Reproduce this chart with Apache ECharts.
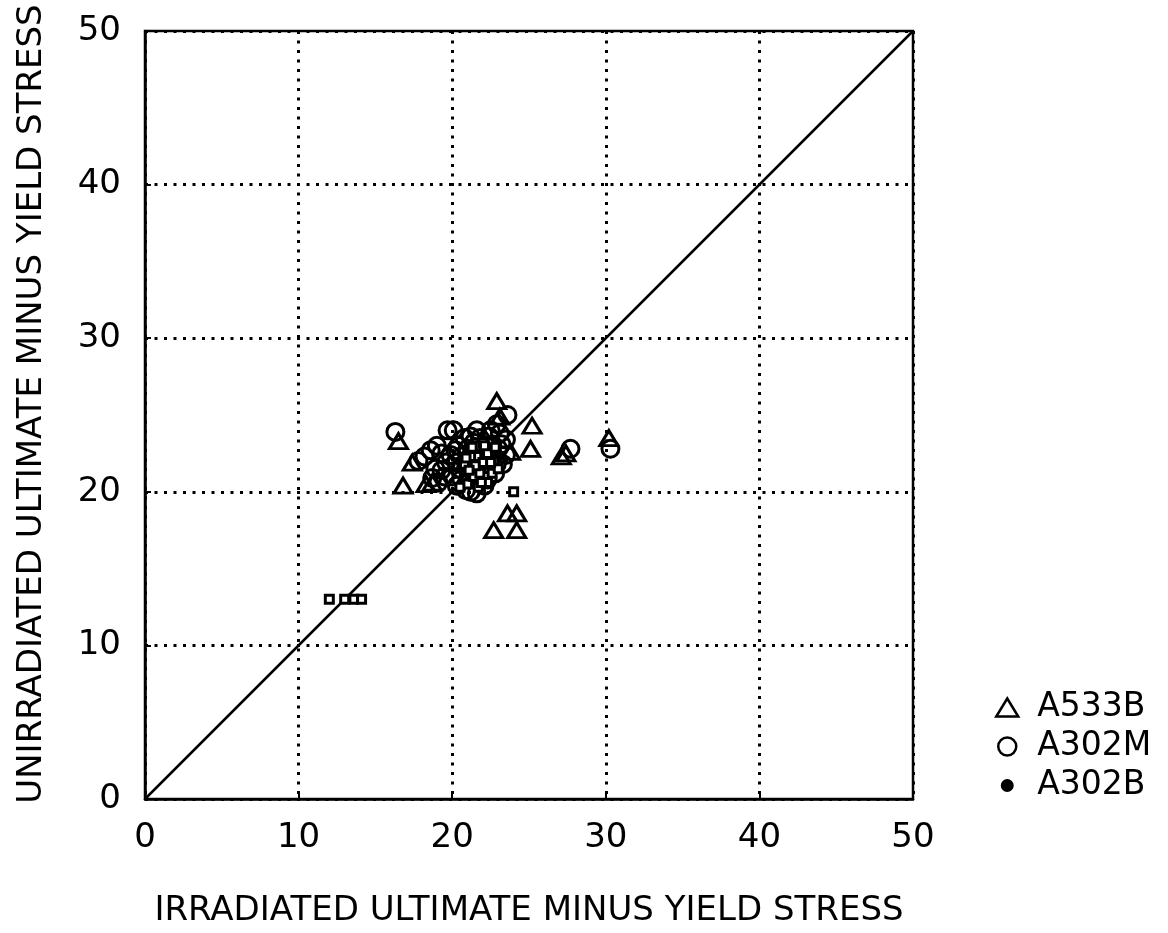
<!DOCTYPE html>
<html>
<head>
<meta charset="utf-8">
<script src="https://cdn.jsdelivr.net/npm/echarts@6/dist/echarts.min.js"></script>
<style>
html,body{margin:0;padding:0;background:#fff;}
#chart{width:1168px;height:933px;}
</style>
</head>
<body>
<div id="chart"></div>
<script>
// ---- data ----
const xTicks = [0, 10, 20, 30, 40, 50];
const yTicks = [0, 10, 20, 30, 40, 50];
const seriesNames = ['A533B', 'A302M', 'A302B'];
const xTitle = 'IRRADIATED ULTIMATE MINUS YIELD STRESS';
const yTitle = 'UNIRRADIATED ULTIMATE MINUS YIELD STRESS';

// [irradiated, unirradiated]
const a533b = [
  [16.5, 23.3], [22.9, 25.9], [23.1, 24.9], [25.2, 24.3], [25.1, 22.8],
  [27.1, 22.3], [27.4, 22.5], [30.2, 23.5], [16.8, 20.4], [18.3, 20.5],
  [23.6, 18.6], [24.2, 18.6], [22.7, 17.5], [24.2, 17.5], [17.4, 21.9],
  [23.8, 22.6], [18.7, 20.6], [22.3, 22.8], [21.0, 21.2], [23.0, 22.4]
];
const a302m = [
  [16.3, 23.9], [19.7, 24.0], [20.1, 24.0], [22.5, 24.0], [23.6, 25.0],
  [22.9, 24.4], [23.1, 23.8], [27.7, 22.8], [30.3, 22.8],
  [19.0, 23.0], [18.6, 22.7], [18.2, 22.3], [17.8, 22.0], [19.6, 21.9],
  [19.3, 21.4], [20.0, 21.0], [20.3, 20.4], [20.9, 20.1],
  [20.8, 23.5], [21.2, 23.6], [21.8, 23.5], [21.0, 22.8], [20.6, 22.3],
  [21.2, 21.9], [22.0, 22.4], [22.4, 21.9], [22.0, 21.3],
  [23.0, 22.8], [23.5, 22.4], [23.3, 21.8], [22.8, 21.2], [22.3, 20.8],
  [21.6, 20.8], [21.2, 20.0], [21.6, 19.9], [19.1, 20.6], [18.7, 20.9],
  [23.5, 23.4], [19.3, 22.5], [20.2, 22.7], [21.5, 22.2], [22.6, 23.1], [20.5, 21.5],
  [21.8, 22.7], [22.2, 23.0], [21.4, 23.2], [20.4, 23.0], [19.9, 22.4], [20.9, 21.6],
  [21.7, 21.6], [22.6, 22.4], [22.9, 21.8], [22.1, 20.4], [21.1, 20.9], [20.3, 21.9],
  [19.5, 21.0], [18.9, 21.5], [22.4, 23.6], [21.6, 24.0], [23.2, 23.1], [20.6, 20.8]
];
const a302b = [
  [12.0, 13.0], [13.0, 13.0], [13.6, 13.0], [14.1, 13.0], [24.0, 20.0],
  [21.4, 22.5], [21.7, 22.0], [22.0, 22.8], [21.9, 21.6], [22.2, 22.2],
  [21.5, 21.3], [22.4, 21.5], [21.8, 20.8], [22.1, 21.0], [21.2, 21.7],
  [22.5, 22.6], [21.6, 23.0], [22.3, 20.6], [21.0, 20.5], [22.7, 22.0],
  [21.3, 22.9], [20.8, 21.8], [22.0, 23.2], [21.7, 20.3], [20.5, 20.3],
  [22.6, 21.2], [23.0, 21.5], [21.9, 22.4], [22.2, 21.8], [21.4, 21.0],
  [21.6, 22.3], [22.0, 21.9], [21.8, 21.2], [22.3, 22.5], [21.2, 22.3],
  [22.1, 23.0], [21.5, 21.7], [22.5, 21.9], [20.9, 22.2], [21.9, 20.6],
  [22.8, 22.9], [21.1, 21.4]
];
const diagonal = [[0, 0], [50, 50]];

// ---- chart ----
const FONT = 'DejaVu Sans';
const chart = echarts.init(document.getElementById('chart'), null, {renderer: 'canvas'});

const dotted = {color: '#000', width: 3, type: [3, 6.5]};

function axisCommon(ticks, title, isY) {
  return {
    type: 'value',
    min: ticks[0],
    max: ticks[ticks.length - 1],
    interval: ticks[1] - ticks[0],
    name: title,
    nameLocation: 'middle',
    nameGap: isY ? 96 : 95,
    nameTextStyle: {fontFamily: FONT, fontSize: 34, color: '#000', padding: isY ? [0, 0, 0, 22] : 0},
    axisLine: {show: true, onZero: false, lineStyle: {color: '#000', width: 2.5}},
    axisTick: {show: true, inside: true, length: 6, lineStyle: {color: '#000', width: 2}},
    axisLabel: {fontFamily: FONT, fontSize: 34, color: '#000', margin: isY ? 24 : 22},
    splitLine: {show: true, lineStyle: dotted}
  };
}

const option = {
  backgroundColor: '#fff',
  animation: false,
  grid: {left: 145, right: 255, top: 31, bottom: 126, show: true, borderColor: '#000', borderWidth: 2.5, backgroundColor: 'transparent'},
  xAxis: axisCommon(xTicks, xTitle, false),
  yAxis: axisCommon(yTicks, yTitle, true),
  legend: {
    orient: 'vertical',
    left: 990,
    top: 686,
    itemWidth: 22,
    itemHeight: 18,
    itemGap: 6,
    textStyle: {fontFamily: FONT, fontSize: 33, color: '#000', padding: [0, 0, 0, 14]},
    data: [
      {name: seriesNames[0], icon: 'triangle', itemStyle: {color: 'transparent', borderColor: '#000', borderWidth: 2.5}},
      {name: seriesNames[1], icon: 'circle', itemStyle: {color: 'transparent', borderColor: '#000', borderWidth: 2.5}},
      {name: seriesNames[2], icon: 'circle', itemStyle: {color: '#000', borderColor: '#fff', borderWidth: 5}}
    ]
  },
  series: [
    {
      type: 'line', data: diagonal, symbol: 'none', silent: true,
      lineStyle: {color: '#000', width: 2.5}, z: 1
    },
    {
      name: seriesNames[0], type: 'scatter', data: a533b,
      symbol: 'triangle', symbolSize: [18, 15],
      itemStyle: {color: 'transparent', borderColor: '#000', borderWidth: 3, opacity: 1}, z: 3
    },
    {
      name: seriesNames[1], type: 'scatter', data: a302m,
      symbol: 'circle', symbolSize: 17,
      itemStyle: {color: 'transparent', borderColor: '#000', borderWidth: 3, opacity: 1}, z: 3
    },
    {
      name: seriesNames[2], type: 'scatter', data: a302b,
      symbol: 'rect', symbolSize: 8,
      itemStyle: {color: '#fff', borderColor: '#000', borderWidth: 3, opacity: 1}, z: 4
    }
  ]
};
chart.setOption(option);
</script>
</body>
</html>
